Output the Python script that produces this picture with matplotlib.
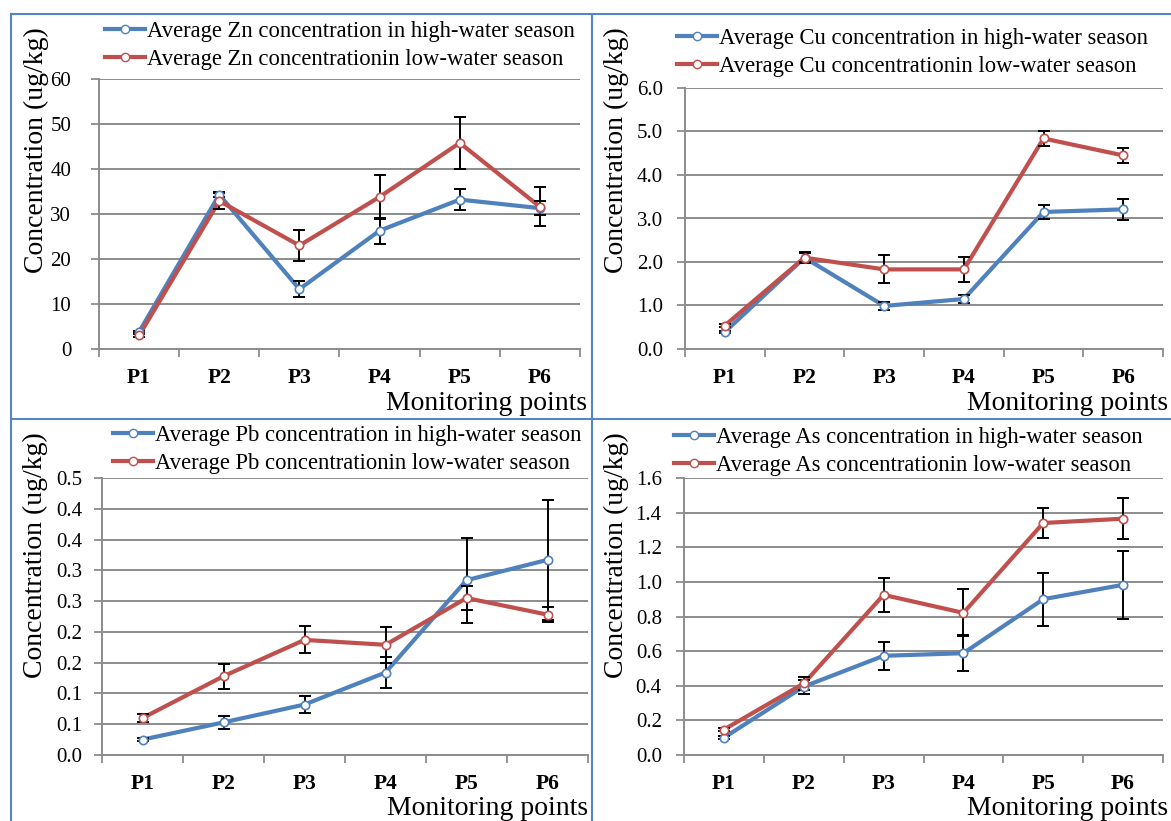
import matplotlib
matplotlib.use('Agg')
import matplotlib.pyplot as plt
from matplotlib.lines import Line2D

plt.rcParams['font.family'] = ['Liberation Serif', 'DejaVu Serif']

points = ['P1', 'P2', 'P3', 'P4', 'P5', 'P6']

zn_high = [3.8, 34.3, 13.3, 26.3, 33.2, 31.3]
zn_high_err = [0.3, 0.5, 1.8, 2.9, 2.4, 1.5]
zn_low = [3.0, 32.9, 23.0, 33.8, 45.8, 31.6]
zn_low_err = [0.3, 1.8, 3.5, 4.9, 5.8, 4.3]

cu_high = [0.39, 2.10, 0.99, 1.15, 3.15, 3.21]
cu_high_err = [0.03, 0.10, 0.10, 0.10, 0.16, 0.24]
cu_low = [0.54, 2.10, 1.83, 1.83, 4.84, 4.45]
cu_low_err = [0.03, 0.13, 0.32, 0.28, 0.17, 0.18]

pb_high = [0.025, 0.053, 0.082, 0.134, 0.284, 0.317]
pb_high_err = [0.003, 0.010, 0.014, 0.025, 0.069, 0.098]
pb_low = [0.060, 0.128, 0.187, 0.179, 0.255, 0.228]
pb_low_err = [0.007, 0.020, 0.022, 0.029, 0.020, 0.012]

as_high = [0.10, 0.395, 0.573, 0.588, 0.90, 0.983]
as_high_err = [0.01, 0.04, 0.082, 0.105, 0.153, 0.195]
as_low = [0.147, 0.413, 0.925, 0.821, 1.34, 1.365]
as_low_err = [0.01, 0.04, 0.10, 0.135, 0.086, 0.12]

zn_ticks = [0, 10, 20, 30, 40, 50, 60]
zn_labels = ['0', '10', '20', '30', '40', '50', '60']
cu_ticks = [0, 1, 2, 3, 4, 5, 6]
cu_labels = ['0.0', '1.0', '2.0', '3.0', '4.0', '5.0', '6.0']
pb_ticks = [0, 0.05, 0.10, 0.15, 0.20, 0.25, 0.30, 0.35, 0.40, 0.45]
pb_labels = ['0.0', '0.1', '0.1', '0.2', '0.2', '0.3', '0.3', '0.4', '0.4', '0.5']
as_ticks = [0, 0.2, 0.4, 0.6, 0.8, 1.0, 1.2, 1.4, 1.6]
as_labels = ['0.0', '0.2', '0.4', '0.6', '0.8', '1.0', '1.2', '1.4', '1.6']

BLUE = '#4F81BD'
RED = '#C0504D'
GRID = '#8C8C8C'
W, H = 1171, 821

fig = plt.figure(figsize=(W / 100, H / 100), dpi=100)


def px_axes(left, right, top, bottom):
    return fig.add_axes([left / W, 1 - bottom / H, (right - left) / W, (bottom - top) / H])


def panel(box, metal, high, high_err, low, low_err, ticks, labels, ypad,
          legend_xy, ylab_xy, xlab_xy):
    ax = px_axes(*box)
    x = list(range(len(points)))
    ax.plot(x, high, color=BLUE, lw=3, zorder=2, solid_capstyle='round')
    ax.plot(x, low, color=RED, lw=3, zorder=2.5, solid_capstyle='round')
    ax.errorbar(x, high, yerr=high_err, fmt='none', ecolor='black', elinewidth=1.4,
                capsize=4, capthick=1.4, zorder=3)
    ax.errorbar(x, low, yerr=low_err, fmt='none', ecolor='black', elinewidth=1.4,
                capsize=4, capthick=1.4, zorder=3)
    ax.plot(x, high, 'o', ms=6, mfc='white', mec=BLUE, mew=1.2, zorder=4)
    ax.plot(x, low, 'o', ms=6, mfc='white', mec=RED, mew=1.2, zorder=4.5)

    ax.set_xlim(-0.5, len(points) - 0.5)
    ax.set_ylim(ticks[0], ticks[-1])
    ax.set_yticks(ticks)
    ax.set_yticklabels(labels, fontsize=15)
    ax.set_xticks(x)
    ax.set_xticklabels(points, fontsize=15.5, fontweight='bold')
    ax.set_xticks([i - 0.5 for i in range(len(points) + 1)], minor=True)
    ax.tick_params(axis='x', which='major', length=0, pad=14)
    ax.tick_params(axis='x', which='minor', length=6, width=1.3, color=GRID, direction='out')
    ax.tick_params(axis='y', length=6, width=1.3, color=GRID, pad=ypad)
    ax.yaxis.grid(True, color=GRID, lw=1.4)
    ax.set_axisbelow(True)
    for s in ['top', 'right']:
        ax.spines[s].set_visible(False)
    for s in ['left', 'bottom']:
        ax.spines[s].set_color(GRID)
        ax.spines[s].set_linewidth(1.4)

    handles = [
        Line2D([], [], color=BLUE, lw=3, marker='o', ms=6, mfc='white', mec=BLUE),
        Line2D([], [], color=RED, lw=3, marker='o', ms=6, mfc='white', mec=RED),
    ]
    names = ['Average %s concentration in high-water season' % metal,
             'Average %s concentrationin low-water season' % metal]
    fig.legend(handles, names, loc='upper left',
               bbox_to_anchor=(legend_xy[0] / W, 1 - legend_xy[1] / H),
               frameon=False, fontsize=16.3, handlelength=1.75, handletextpad=0.1,
               labelspacing=0.3, borderpad=0, borderaxespad=0, numpoints=1)
    fig.text(ylab_xy[0] / W, 1 - ylab_xy[1] / H, 'Concentration (ug/kg)', rotation=90,
             ha='center', va='center', fontsize=20)
    fig.text(xlab_xy[0] / W, 1 - xlab_xy[1] / H, 'Monitoring points',
             ha='right', va='center', fontsize=20)
    return ax


panel((99, 580, 79, 349), 'Zn', zn_high, zn_high_err, zn_low, zn_low_err,
      zn_ticks, zn_labels, 14, (105, 21), (36, 150), (587, 403))
panel((685, 1163, 88, 349), 'Cu', cu_high, cu_high_err, cu_low, cu_low_err,
      cu_ticks, cu_labels, 10, (677, 28), (616, 150), (1168, 403))
panel((102, 588, 478, 755), 'Pb', pb_high, pb_high_err, pb_low, pb_low_err,
      pb_ticks, pb_labels, 8, (113, 425), (35, 555), (588, 808))
panel((684, 1163, 478, 755), 'As', as_high, as_high_err, as_low, as_low_err,
      as_ticks, as_labels, 10, (674, 427), (616, 555), (1168, 808))

# panel frames
frame = dict(color='#5585C5', lw=1.5, transform=fig.transFigure)
fig.add_artist(Line2D([11 / W, 1], [1 - 14 / H, 1 - 14 / H], **frame))
fig.add_artist(Line2D([11 / W, 11 / W], [0, 1 - 14 / H], **frame))
fig.add_artist(Line2D([592 / W, 592 / W], [0, 1 - 14 / H], **frame))
fig.add_artist(Line2D([11 / W, 1], [1 - 419 / H, 1 - 419 / H], **frame))

fig.savefig('out.png', dpi=100)
